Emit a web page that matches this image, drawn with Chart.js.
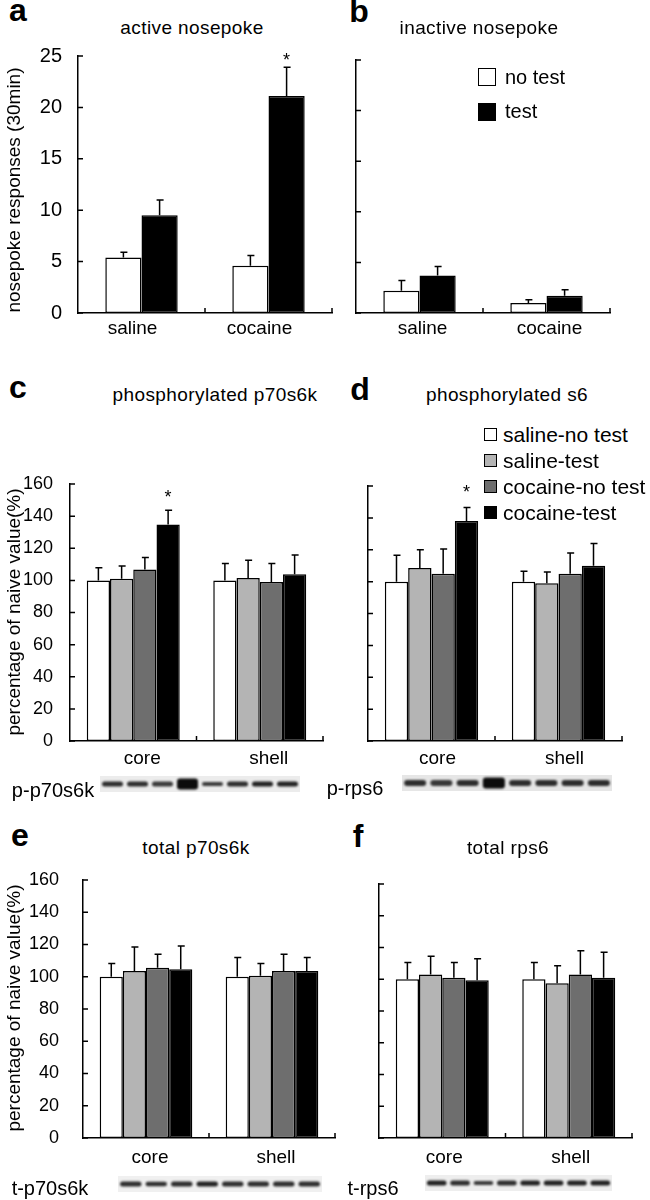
<!DOCTYPE html>
<html>
<head>
<meta charset="utf-8">
<script src="https://cdn.jsdelivr.net/npm/chart.js@4.4.0/dist/chart.umd.min.js"></script>
<style>
body { margin: 0; background: #fff; }
#fig { position: relative; width: 650px; height: 1200px; overflow: hidden; font-family: "Liberation Sans", Arial, sans-serif; color: #000; }
#fig canvas { position: absolute; }
.t { position: absolute; white-space: nowrap; line-height: 1; }
.c { transform: translate(-50%, -50%); }
.l { transform: translate(0, -50%); }
.rot { transform: translate(-50%, -50%) rotate(-90deg); font-size: 19px; }
.letter { font-weight: bold; font-size: 32px; }
.title { font-size: 19px; letter-spacing: 0.4px; }
.leg { font-size: 20px; }
.legd { font-size: 21px; }
.blot { font-size: 20px; }
.box { position: absolute; border: 1.5px solid #000; box-sizing: border-box; }
</style>
</head>
<body>
<div id="fig"></div>
<script>
// panel a / b : nosepoke responses
var nosepokeGroups = ['saline', 'cocaine'];
var activeNoTest = [5.4, 4.6];
var activeNoTestSem = [0.5, 1.0];
var activeTest = [9.5, 21.1];
var activeTestSem = [1.5, 2.8];
var inactiveNoTest = [2.2, 1.0];
var inactiveNoTestSem = [1.0, 0.3];
var inactiveTest = [3.7, 1.7];
var inactiveTestSem = [0.9, 0.6];
var nosepokeTicks = [0, 5, 10, 15, 20, 25];

// panels c-f : percentage of naive value, order = core, shell
var regions = ['core', 'shell'];
var groupNames = ['saline-no test', 'saline-test', 'cocaine-no test', 'cocaine-test'];
var percentTicks = [0, 20, 40, 60, 80, 100, 120, 140, 160];

var pP70 = [[100, 100], [101, 101.5], [106.8, 99], [134.8, 103.8]];
var pP70Sem = [[7.8, 10.5], [8, 11], [7.5, 11.5], [8.8, 12]];
var pP70Star = [['', ''], ['', ''], ['', ''], ['*', '']];

var pS6 = [[100, 100], [108.5, 99], [105, 105], [138, 110]];
var pS6Sem = [[16.5, 6.5], [11.5, 7], [15.5, 13], [8.5, 14]];
var pS6Star = [['', ''], ['', ''], ['', ''], ['*', '']];

var tP70 = [[100, 100], [103.5, 100.6], [105.6, 103.5], [104.7, 103.5]];
var tP70Sem = [[8.2, 12], [15, 7.6], [8.4, 10.5], [14.3, 8.5]];

var tS6 = [[100, 100], [103, 97.5], [101, 103], [99.4, 101]];
var tS6Sem = [[10.5, 10.5], [11.5, 11], [9.5, 15], [13.5, 16]];

// western blot strips: band thickness and darkness, 8 lanes
var pP70Band = [5, 5, 5, 11, 4, 5, 5, 5];
var pP70Dark = [0.85, 0.85, 0.8, 1, 0.8, 0.85, 0.9, 0.9];
var pS6Band = [6, 6, 6, 11, 6, 6, 6, 6];
var pS6Dark = [0.85, 0.8, 0.85, 1, 0.85, 0.85, 0.85, 0.85];
var tP70Band = [5, 4.5, 5, 5, 5, 5, 5, 5];
var tP70Dark = [0.85, 0.85, 0.85, 0.9, 0.85, 0.85, 0.85, 0.85];
var tS6Band = [5, 5, 4, 5, 5, 5, 5, 5];
var tS6Dark = [0.9, 0.85, 0.8, 0.85, 0.9, 0.9, 0.9, 0.9];

var fills2 = ['#ffffff', '#000000'];
var fills4 = ['#ffffff', '#b4b4b4', '#6e6e6e', '#000000'];

Chart.defaults.font.family = '"Liberation Sans", Arial, sans-serif';
Chart.defaults.color = '#000';

var fig = document.getElementById('fig');
var YW = 70, XH = 40, PT = 16, PR = 14;

function addCanvas(id, left, top, w, h) {
  var c = document.createElement('canvas');
  c.id = id;
  c.width = w; c.height = h;
  c.style.left = left + 'px'; c.style.top = top + 'px';
  c.style.width = w + 'px'; c.style.height = h + 'px';
  fig.appendChild(c);
  return c;
}

function text(str, x, y, cls) {
  var d = document.createElement('div');
  d.className = 't ' + cls;
  d.textContent = str;
  d.style.left = x + 'px';
  d.style.top = y + 'px';
  fig.appendChild(d);
}

function box(x, y, size, color) {
  var d = document.createElement('div');
  d.className = 'box';
  d.style.left = x + 'px'; d.style.top = y + 'px';
  d.style.width = size + 'px'; d.style.height = size + 'px';
  d.style.background = color;
  fig.appendChild(d);
}

// ticks pointing into the plot, like the original
var inwardTicks = {
  id: 'inwardTicks',
  afterDraw: function(chart) {
    var ctx = chart.ctx, x = chart.scales.x, y = chart.scales.y;
    ctx.save();
    ctx.strokeStyle = '#000';
    ctx.lineWidth = 1.5;
    ctx.beginPath();
    y.ticks.forEach(function(t, i) {
      var py = y.getPixelForTick(i);
      ctx.moveTo(y.right, py);
      ctx.lineTo(y.right + 5, py);
    });
    var n = x.ticks.length;
    for (var i = 1; i <= n; i++) {
      var px = x.left + i * x.width / n;
      ctx.moveTo(px, x.top);
      ctx.lineTo(px, x.top - 5);
    }
    ctx.stroke();
    ctx.restore();
  }
};

var errorBars = {
  id: 'errorBars',
  afterDatasetsDraw: function(chart) {
    var ctx = chart.ctx, y = chart.scales.y;
    var gap = chart.options.plugins.errorBars.starGap;
    ctx.save();
    ctx.strokeStyle = '#000';
    ctx.fillStyle = '#000';
    ctx.lineWidth = 1.5;
    ctx.font = '18px "Liberation Sans", Arial, sans-serif';
    ctx.textAlign = 'center';
    ctx.textBaseline = 'alphabetic';
    chart.data.datasets.forEach(function(ds, di) {
      var meta = chart.getDatasetMeta(di);
      meta.data.forEach(function(bar, j) {
        var top = y.getPixelForValue(ds.data[j] + ds.sem[j]);
        ctx.beginPath();
        ctx.moveTo(bar.x, bar.y);
        ctx.lineTo(bar.x, top);
        ctx.moveTo(bar.x - 3, top);
        ctx.lineTo(bar.x + 4, top);
        ctx.stroke();
        if (ds.stars && ds.stars[j]) {
          ctx.fillText(ds.stars[j], bar.x, top - gap + 10);
        }
      });
    });
    ctx.restore();
  }
};

function barPanel(id, area, cats, values, sems, stars, colors, o) {
  var L = area[0], T = area[1], R = area[2], B = area[3];
  var cv = addCanvas(id, L - YW, T - PT, R - L + YW + PR, B - T + PT + XH);
  var datasets = values.map(function(v, i) {
    return {
      data: v,
      sem: sems[i],
      stars: stars ? stars[i] : null,
      backgroundColor: colors[i],
      borderColor: '#000',
      borderWidth: 1.5,
      borderSkipped: false,
      categoryPercentage: o.catPct,
      barPercentage: 1.0
    };
  });
  return new Chart(cv, {
    type: 'bar',
    data: { labels: cats, datasets: datasets },
    options: {
      responsive: false,
      animation: false,
      layout: { padding: { top: PT, right: PR, left: 0, bottom: 0 } },
      plugins: {
        legend: { display: false },
        tooltip: { enabled: false },
        errorBars: { starGap: o.starGap || 14 }
      },
      scales: {
        x: {
          grid: { display: false, drawTicks: false },
          border: { color: '#000', width: 1.5 },
          ticks: { color: '#000', font: { size: 19 }, padding: o.xPad, labelOffset: o.xOff },
          afterFit: function(s) { s.height = XH; s.paddingLeft = 0; s.paddingRight = 0; }
        },
        y: {
          min: o.ticks[0],
          max: o.ticks[o.ticks.length - 1],
          grid: { display: false, drawTicks: false },
          border: { color: '#000', width: 1.5 },
          afterBuildTicks: function(s) { s.ticks = o.ticks.map(function(v) { return { value: v }; }); },
          ticks: { display: o.yLabels, color: '#000', font: { size: o.ySize || 18 }, padding: o.yPad || 16 },
          // keep the plot box where it is, the top label fits in the layout padding
          afterFit: function(s) { s.width = YW; s.paddingTop = 0; s.paddingBottom = 0; }
        }
      }
    },
    plugins: [inwardTicks, errorBars]
  });
}

var blotLook = {
  id: 'blotLook',
  beforeDraw: function(chart) {
    var a = chart.chartArea, ctx = chart.ctx;
    ctx.save();
    ctx.fillStyle = chart.options.plugins.blotLook.bg;
    ctx.fillRect(a.left, a.top, a.right - a.left, a.bottom - a.top);
    ctx.restore();
  },
  beforeDatasetsDraw: function(chart) {
    chart.ctx.save();
    chart.ctx.filter = 'blur(0.8px)';
  },
  afterDatasetsDraw: function(chart) {
    chart.ctx.restore();
  }
};

function blotPanel(id, rect, thick, dark, bg) {
  var cv = addCanvas(id, rect[0], rect[1], rect[2] - rect[0], rect[3] - rect[1]);
  return new Chart(cv, {
    type: 'bar',
    data: {
      labels: thick.map(function(t, i) { return 'lane ' + (i + 1); }),
      datasets: [{
        data: thick.map(function(t) { return [-t / 2, t / 2]; }),
        backgroundColor: dark.map(function(d) { return 'rgba(12,12,12,' + d + ')'; }),
        borderWidth: 0,
        borderRadius: 3,
        borderSkipped: false,
        barPercentage: 0.84,
        categoryPercentage: 1
      }]
    },
    options: {
      responsive: false,
      animation: false,
      layout: { padding: 0 },
      plugins: { legend: { display: false }, tooltip: { enabled: false }, blotLook: { bg: bg } },
      scales: {
        x: { display: false },
        y: { display: false, min: -8, max: 8 }
      }
    },
    plugins: [blotLook]
  });
}

// ---- panels ----
barPanel('chartA', [78, 56, 332, 313], nosepokeGroups,
  [activeNoTest, activeTest], [activeNoTestSem, activeTestSem], [['', ''], ['', '*']], fills2,
  { catPct: 0.57, ticks: nosepokeTicks, yLabels: true, ySize: 20, yPad: 16, xPad: 4, xOff: -9, starGap: 11 });

barPanel('chartB', [356, 60, 610, 313], nosepokeGroups,
  [inactiveNoTest, inactiveTest], [inactiveNoTestSem, inactiveTestSem], null, fills2,
  { catPct: 0.57, ticks: nosepokeTicks, yLabels: false, xPad: 4, xOff: 3 });

barPanel('chartC', [70, 484, 323, 741], regions, pP70, pP70Sem, pP70Star, fills4,
  { catPct: 0.735, ticks: percentTicks, yLabels: true, ySize: 18, yPad: 17, xPad: 6, xOff: 9, starGap: 17 });

barPanel('chartD', [368, 486, 622, 741], regions, pS6, pS6Sem, pS6Star, fills4,
  { catPct: 0.735, ticks: percentTicks, yLabels: false, xPad: 6, xOff: 6, starGap: 20 });

barPanel('chartE', [83, 880, 335, 1138], regions, tP70, tP70Sem, null, fills4,
  { catPct: 0.735, ticks: percentTicks, yLabels: true, ySize: 18, yPad: 24, xPad: 8, xOff: 4 });

barPanel('chartF', [379, 884, 632, 1138], regions, tS6, tS6Sem, null, fills4,
  { catPct: 0.735, ticks: percentTicks, yLabels: false, xPad: 8, xOff: 2 });

blotPanel('blotPP70', [100, 776, 300, 792], pP70Band, pP70Dark, '#ececec');
blotPanel('blotPS6', [402, 775, 612, 791], pS6Band, pS6Dark, '#e6e6e6');
blotPanel('blotTP70', [118, 1176, 322, 1192], tP70Band, tP70Dark, '#f0f0f0');
blotPanel('blotTS6', [425, 1175, 612, 1191], tS6Band, tS6Dark, '#eeeeee');

// ---- text ----
text('a', 18, 10, 'c letter');
text('b', 359, 11, 'c letter');
text('c', 18, 387, 'c letter');
text('d', 360, 389, 'c letter');
text('e', 20, 835, 'c letter');
text('f', 358, 836, 'c letter');

text('active nosepoke', 192, 27, 'c title');
text('inactive nosepoke', 479, 27, 'c title');
text('phosphorylated p70s6k', 215, 394, 'c title');
text('phosphorylated s6', 507, 394, 'c title');
text('total p70s6k', 196, 847, 'c title');
text('total rps6', 508, 847, 'c title');

text('nosepoke responses (30min)', 13, 190, 'rot');
text('percentage of naive value(%)', 13, 612, 'rot');
text('percentage of naive value(%)', 13, 1008, 'rot');

// legend b
box(478, 68, 18, fills2[0]);
text('no test', 505, 77, 'l leg');
box(478, 103, 18, fills2[1]);
text('test', 505, 111, 'l leg');

// legend d
var legY = [434, 460, 486, 512];
groupNames.forEach(function(name, i) {
  box(484, legY[i] - 6, 13, fills4[i]);
  text(name, 503, legY[i], 'l legd');
});

// blot labels
text('p-p70s6k', 53, 790, 'c blot');
text('p-rps6', 355, 788, 'c blot');
text('t-p70s6k', 50, 1188, 'c blot');
text('t-rps6', 373, 1188, 'c blot');
</script>
</body>
</html>
